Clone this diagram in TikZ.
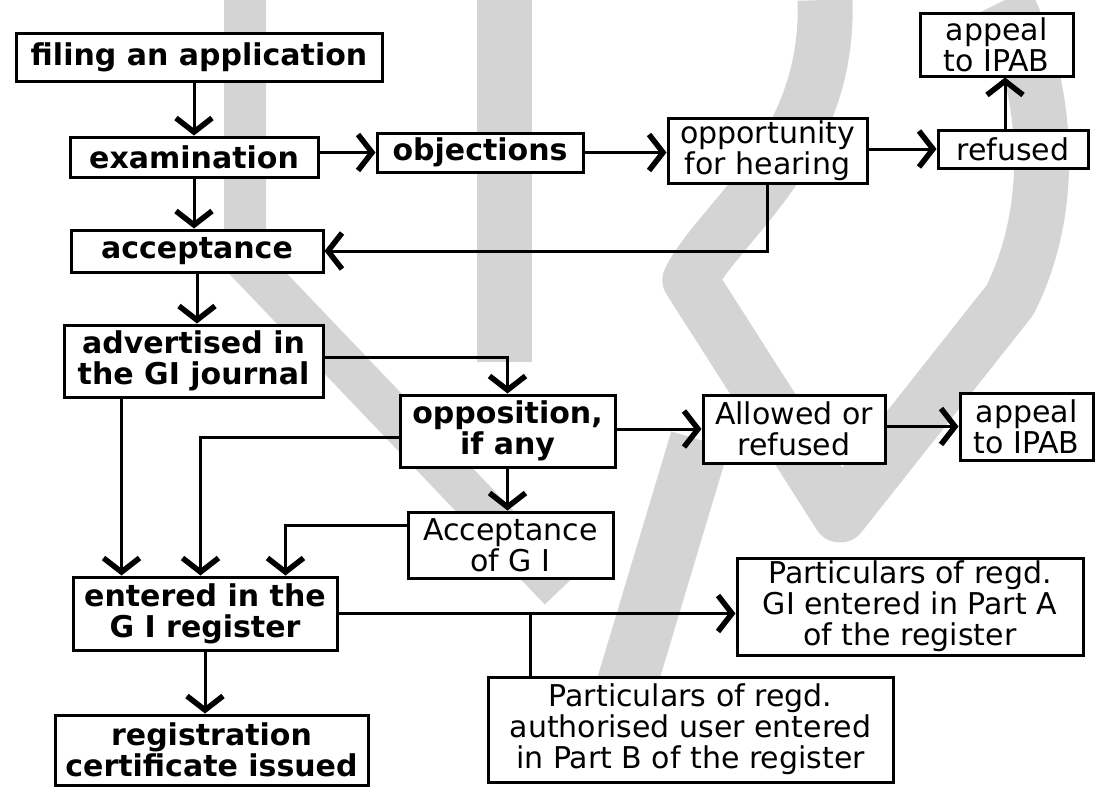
\documentclass[tikz,border=0pt]{standalone}
\usepackage{fontspec}
\setmainfont{DejaVu Sans}
\usetikzlibrary{arrows.meta}
\definecolor{wmgray}{gray}{0.83}
\begin{document}
\begin{tikzpicture}[x=1pt, y=-1pt,
  every node/.style={font=\fontsize{30}{31}\selectfont},
  box/.style={draw, line width=3pt, fill=white, align=center, inner sep=0pt},
  bbox/.style={box, font=\fontsize{30}{31}\selectfont\bfseries},
  arr/.style={line width=3pt, -{Straight Barb[length=14pt, width=36pt, line width=5.5pt]}},
  link/.style={line width=3pt},
  wm/.style={wmgray, line width=55pt, line join=round}]
  \useasboundingbox (0,0) rectangle (1106,788);
  \fill [wmgray] (477,0) rectangle (532,362);
  \draw [wm, line width=42pt] (245,0) -- (245,260) -- (560,590);
  \draw [wm] (825,0) .. controls (830,150) and (720,220) .. (690,280) -- (840,515) -- (1010,300) .. controls (1060,200) and (1045,80) .. (1005,0);
  \draw [wm, line width=60pt] (700,440) -- (625,690);
  \node [bbox, minimum width=366pt, minimum height=48pt] (filing) at (199,57) {filing an application};
  \node [bbox, minimum width=248pt, minimum height=40pt] (exam) at (194,157) {examination};
  \node [bbox, minimum width=206pt, minimum height=39pt] (objections) at (480,152.5) {objections};
  \node [box, minimum width=199pt, minimum height=65pt] (opportunity) at (767.5,150.5) {opportunity\\for hearing};
  \node [box, minimum width=150pt, minimum height=38pt] (refused) at (1013,149) {refused};
  \node [box, minimum width=153pt, minimum height=63pt] (appealtop) at (996.5,44.5) {appeal\\to IPAB};
  \node [bbox, minimum width=252pt, minimum height=42pt] (acceptance) at (197,251) {acceptance};
  \node [bbox, minimum width=259pt, minimum height=72pt] (advertised) at (193.5,361) {advertised in\\the GI journal};
  \node [bbox, minimum width=215pt, minimum height=72pt] (opposition) at (507.5,431) {opposition,\\if any};
  \node [box, minimum width=182pt, minimum height=68pt] (allowed) at (794,429) {Allowed or\\refused};
  \node [box, minimum width=133pt, minimum height=67pt] (appealright) at (1026.5,426.5) {appeal\\to IPAB};
  \node [box, minimum width=205pt, minimum height=66pt] (accgi) at (510.5,545) {Acceptance\\of G I};
  \node [bbox, minimum width=264pt, minimum height=73pt] (entered) at (205,613.5) {entered in the\\G I register};
  \node [box, minimum width=346pt, minimum height=97pt] (partA) at (910,606.5) {Particulars of regd.\\GI entered in Part A\\of the register};
  \node [box, minimum width=405pt, minimum height=105pt] (partB) at (690.5,729.5) {Particulars of regd.\\authorised user entered\\in Part B of the register};
  \node [bbox, minimum width=313pt, minimum height=70pt] (registration) at (211.5,750) {registration\\certificate issued};
  \draw [arr] (exam.north |- filing.south) -- (exam.north);
  \draw [arr] (exam.east |- objections.west) -- (objections.west);
  \draw [arr] (objections.east) -- (opportunity.west |- objections.east);
  \draw [arr] (opportunity.east |- refused.west) -- (refused.west);
  \draw [arr] ([xshift=-8pt]refused.north) -- ([xshift=8.5pt]appealtop.south);
  \draw [arr] (exam.south) -- (exam.south |- acceptance.north);
  \draw [arr] (opportunity.south) |- (acceptance.east);
  \draw [arr] (acceptance.south) -- (acceptance.south |- advertised.north);
  \draw [arr] ([yshift=4pt]advertised.east) -| (opposition.north);
  \draw [arr] ([xshift=59pt]advertised.south west) -- ([xshift=50pt]entered.north west);
  \draw [arr] ([yshift=-6pt]opposition.west) -| ([xshift=129pt]entered.north west);
  \draw [arr] ([yshift=20pt]accgi.west) -| ([xshift=214pt]entered.north west);
  \draw [arr] (opposition.south) -- (opposition.south |- accgi.north);
  \draw [arr] (allowed.west -| opposition.east) -- (allowed.west);
  \draw [arr] (allowed.east |- appealright.west) -- (appealright.west);
  \draw [arr] (entered.east) -- (entered.east -| partA.west);
  \coordinate (tap) at (530,613.5);
  \draw [link] (tap) -- (tap |- partB.north);
  \draw [arr] (entered.south) -- (entered.south |- registration.north);
\end{tikzpicture}
\end{document}
